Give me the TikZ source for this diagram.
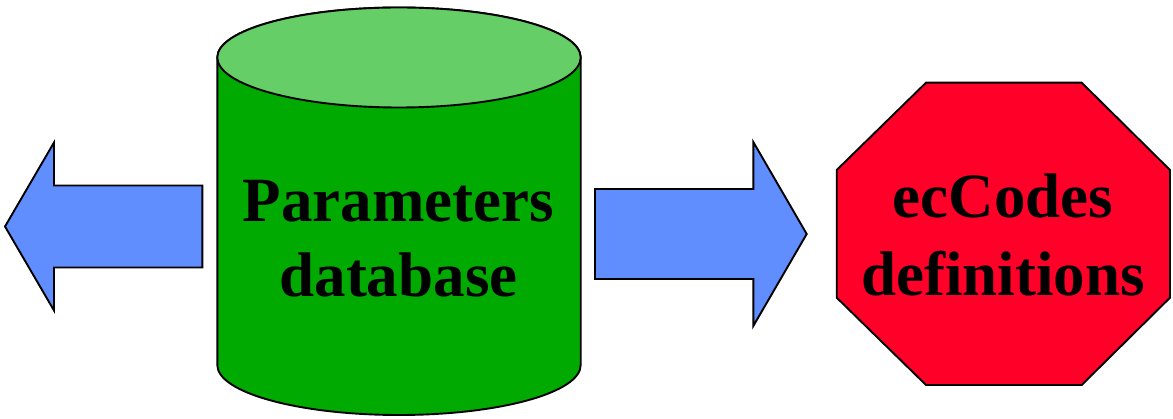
\documentclass[tikz,border=0pt]{standalone}
\usepackage{fontspec}
\setmainfont{Liberation Serif}
\definecolor{dbgreen}{RGB}{0,170,0}
\definecolor{dbtop}{RGB}{102,206,102}
\definecolor{arrowblue}{RGB}{96,142,255}
\definecolor{stopred}{RGB}{255,0,41}
\begin{document}
\begin{tikzpicture}[x=1pt,y=1pt,line width=1.9pt,line join=miter,
	biglabel/.style={font=\bfseries\fontsize{63}{75}\selectfont,align=center}]
	\useasboundingbox (0,0) rectangle (1173,418);
	% left arrow
	\coordinate (L1) at (5,191.5); \coordinate (L2) at (54,275.5); \coordinate (L3) at (54,232.5);
	\coordinate (L4) at (202.3,232.5); \coordinate (L5) at (202.3,150.5); \coordinate (L6) at (54,150.5);
	\coordinate (L7) at (54,107.5);
	\draw[fill=arrowblue] (L1)--(L2)--(L3)--(L4)--(L5)--(L6)--(L7)--cycle;
	% database cylinder
	\coordinate (TL) at (217.3,360.5); \coordinate (TR) at (580.7,360.5);
	\coordinate (BL) at (217.3,53); \coordinate (BR) at (580.7,53); \coordinate (TC) at (399,360.5);
	\draw[fill=dbgreen] (TL)--(BL) arc[start angle=180,end angle=360,x radius=181.7,y radius=50]
		--(TR) arc[start angle=0,end angle=180,x radius=181.7,y radius=50]--cycle;
	\draw[fill=dbtop] (TC) ellipse[x radius=181.7,y radius=50];
	\node[biglabel] (db) at (398.5,179.2) {Parameters\\database};
	% right arrow
	\coordinate (R1) at (595,229); \coordinate (R2) at (753.3,229); \coordinate (R3) at (753.3,276);
	\coordinate (R4) at (806.7,184); \coordinate (R5) at (753.3,92); \coordinate (R6) at (753.3,139);
	\coordinate (R7) at (595,139);
	\draw[fill=arrowblue] (R1)--(R2)--(R3)--(R4)--(R5)--(R6)--(R7)--cycle;
	% octagon
	\coordinate (O1) at (926,335.3); \coordinate (O2) at (1081.7,335.3); \coordinate (O3) at (1170,248);
	\coordinate (O4) at (1170,120.3); \coordinate (O5) at (1081.7,33); \coordinate (O6) at (926,33);
	\coordinate (O7) at (836.7,120.3); \coordinate (O8) at (836.7,248);
	\draw[fill=stopred] (O1)--(O2)--(O3)--(O4)--(O5)--(O6)--(O7)--(O8)--cycle;
	\node[biglabel,font=\bfseries\fontsize{63}{78}\selectfont] (ec) at (1003,183) {ecCodes\\definitions};
\end{tikzpicture}
\end{document}
